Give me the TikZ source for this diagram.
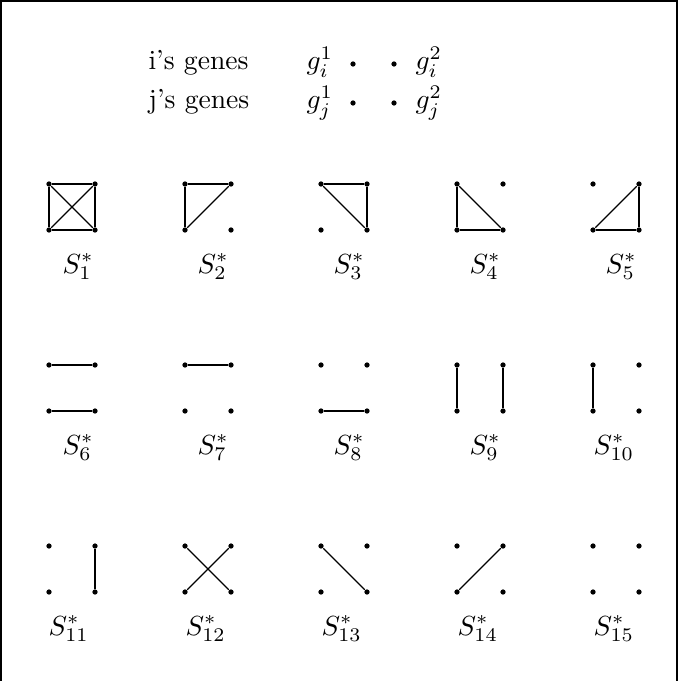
\documentclass[tikz,border=0pt]{standalone}
\begin{document}
\begin{tikzpicture}[x=0.362pt,y=-0.362pt,
  dot/.style={circle,fill,inner sep=0pt,minimum size=1.9pt},
  edge/.style={line width=1pt},
  diag/.style={line width=0.45pt},
  lab/.style={anchor=base west,inner sep=0pt},
  txt/.style={anchor=base west,inner sep=0pt}]
\useasboundingbox (0,0) rectangle (678,681);
% frame (left, top, right)
\coordinate (fbl) at (1,681);
\coordinate (ftl) at (1,1);
\coordinate (ftr) at (677,1);
\coordinate (fbr) at (677,681);
\draw[line width=0.75pt] (fbl) -- (ftl) -- (ftr) -- (fbr);
% header
\node[txt] (ti) at (148,70) {i's genes};
\node[txt] (tj) at (148,109) {j's genes};
\node[txt] (gi1) at (306,70) {$g_i^1$};
\node[txt] (gj1) at (306,109) {$g_j^1$};
\node[dot] (hi1) at (353,64) {};
\node[dot] (hi2) at (394,64) {};
\node[dot] (hj1) at (353,103) {};
\node[dot] (hj2) at (394,103) {};
\node[txt] (gi2) at (415,70) {$g_i^2$};
\node[txt] (gj2) at (415,109) {$g_j^2$};
% graph macro: name, left x, top y
\newcommand\mygraph[3]{%
  \path (#2,#3) node[dot] (#1a) {} ++(46,0) node[dot] (#1b) {}
        ++(-46,46) node[dot] (#1c) {} ++(46,0) node[dot] (#1d) {};}
% row 1
\mygraph{g1}{49}{184}
\mygraph{g2}{185}{184}
\mygraph{g3}{321}{184}
\mygraph{g4}{457}{184}
\mygraph{g5}{593}{184}
% row 2
\mygraph{g6}{49}{365}
\mygraph{g7}{185}{365}
\mygraph{g8}{321}{365}
\mygraph{g9}{457}{365}
\mygraph{g10}{593}{365}
% row 3
\mygraph{g11}{49}{546}
\mygraph{g12}{185}{546}
\mygraph{g13}{321}{546}
\mygraph{g14}{457}{546}
\mygraph{g15}{593}{546}
% edges
\draw[edge] (g1a) -- (g1b) (g1c) -- (g1d) (g1a) -- (g1c) (g1b) -- (g1d);
\draw[diag] (g1a) -- (g1d) (g1b) -- (g1c);
\draw[edge] (g2a) -- (g2b) (g2a) -- (g2c);
\draw[diag] (g2b) -- (g2c);
\draw[edge] (g3a) -- (g3b) (g3b) -- (g3d);
\draw[diag] (g3a) -- (g3d);
\draw[edge] (g4a) -- (g4c) (g4c) -- (g4d);
\draw[diag] (g4a) -- (g4d);
\draw[edge] (g5b) -- (g5d) (g5c) -- (g5d);
\draw[diag] (g5b) -- (g5c);
\draw[edge] (g6a) -- (g6b) (g6c) -- (g6d);
\draw[edge] (g7a) -- (g7b);
\draw[edge] (g8c) -- (g8d);
\draw[edge] (g9a) -- (g9c) (g9b) -- (g9d);
\draw[edge] (g10a) -- (g10c);
\draw[edge] (g11b) -- (g11d);
\draw[diag] (g12a) -- (g12d) (g12b) -- (g12c);
\draw[diag] (g13a) -- (g13d);
\draw[diag] (g14b) -- (g14c);
% labels
\node[lab] (l1) at (62,273) {$S_{1}^{*}$};
\node[lab] (l2) at (197,273) {$S_{2}^{*}$};
\node[lab] (l3) at (333,273) {$S_{3}^{*}$};
\node[lab] (l4) at (469,273) {$S_{4}^{*}$};
\node[lab] (l5) at (605,273) {$S_{5}^{*}$};
\node[lab] (l6) at (62,454) {$S_{6}^{*}$};
\node[lab] (l7) at (197,454) {$S_{7}^{*}$};
\node[lab] (l8) at (333,454) {$S_{8}^{*}$};
\node[lab] (l9) at (469,454) {$S_{9}^{*}$};
\node[lab] (l10) at (593,454) {$S_{10}^{*}$};
\node[lab] (l11) at (48,635) {$S_{11}^{*}$};
\node[lab] (l12) at (185,635) {$S_{12}^{*}$};
\node[lab] (l13) at (321,635) {$S_{13}^{*}$};
\node[lab] (l14) at (457,635) {$S_{14}^{*}$};
\node[lab] (l15) at (593,635) {$S_{15}^{*}$};
\end{tikzpicture}
\end{document}
